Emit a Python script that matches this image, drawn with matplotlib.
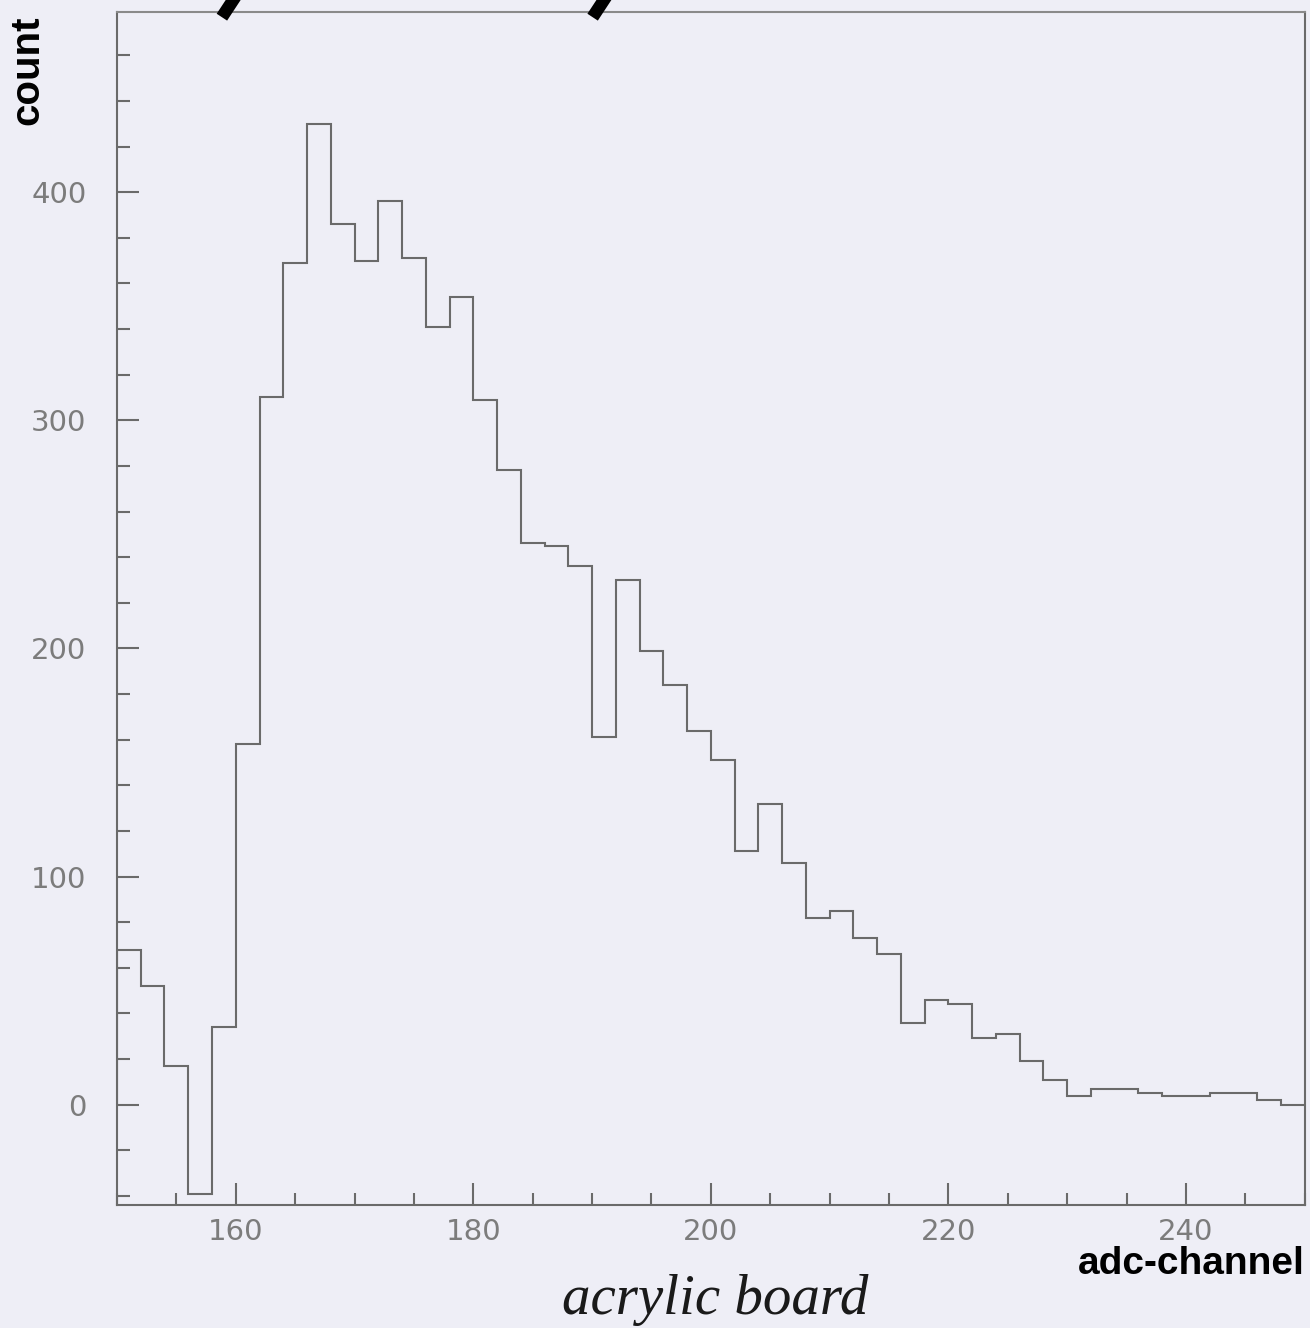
import numpy as np
import matplotlib
matplotlib.use("Agg")
import matplotlib.pyplot as plt
from matplotlib.ticker import MultipleLocator
from matplotlib.lines import Line2D

# histogram of adc channels, 2-channel bins from 150 to 250
bin_edges = np.arange(150, 252, 2)
counts = [
    68, 52, 17, -39, 34, 158, 310, 369, 430, 386,
    370, 396, 371, 341, 354, 309, 278, 246, 245, 236,
    161, 230, 199, 184, 164, 151, 111, 132, 106, 82,
    85, 73, 66, 36, 46, 44, 29, 31, 19, 11,
    4, 7, 7, 5, 4, 4, 5, 5, 2, 0,
]
x_major = [160, 180, 200, 220, 240]
y_major = [0, 100, 200, 300, 400]

BG = "#eeeef6"
INK = "#6a6a6a"

fig = plt.figure(figsize=(13.1, 13.28), dpi=100)
fig.patch.set_facecolor(BG)
ax = fig.add_axes([0.0893, 0.0926, 0.9067, 0.8984])
ax.set_facecolor(BG)

ax.stairs(counts, bin_edges, color=INK, linewidth=1.5)

ax.set_xlim(150, 250)
ax.set_ylim(-44, 479)
ax.set_xticks(x_major)
ax.set_yticks(y_major)
ax.xaxis.set_minor_locator(MultipleLocator(5))
ax.yaxis.set_minor_locator(MultipleLocator(20))
ax.tick_params(axis="both", which="both", direction="in", colors=INK, width=1.5)
ax.tick_params(which="major", length=16)
ax.tick_params(which="minor", length=9)
ax.tick_params(axis="x", labelsize=21, pad=9, labelcolor="#7c7c7c")
ax.tick_params(axis="y", labelsize=21, pad=22, labelcolor="#7c7c7c")
for lab in ax.get_xticklabels() + ax.get_yticklabels():
    lab.set_family("DejaVu Sans")
ax.tick_params(top=False, right=False)

for side in ["left", "bottom", "right"]:
    ax.spines[side].set_color(INK)
    ax.spines[side].set_linewidth(1.5)
ax.spines["top"].set_color("#8a8a8a")
ax.spines["top"].set_linewidth(1.5)
ax.spines["top"].set_linestyle((0, (6, 1)))

fig.text(0.021, 0.947, "count", rotation=90, ha="center", va="center",
         fontsize=29, fontweight="bold", family="Liberation Sans")
fig.text(0.996, 0.048, "adc-channel", ha="right", va="center",
         fontsize=28, fontweight="bold", family="Liberation Sans")
fig.text(0.546, 0.021, "acrylic board", ha="center", va="center",
         fontsize=41, style="italic", family="Liberation Serif", color="#1a1a1a")

# descenders of the cropped title above the frame
for x0 in (0.172, 0.455):
    fig.add_artist(Line2D([x0 + 0.006, x0], [1.0, 0.991], color="black",
                          linewidth=9, transform=fig.transFigure))

fig.savefig("out.png", dpi=100, facecolor=BG)
